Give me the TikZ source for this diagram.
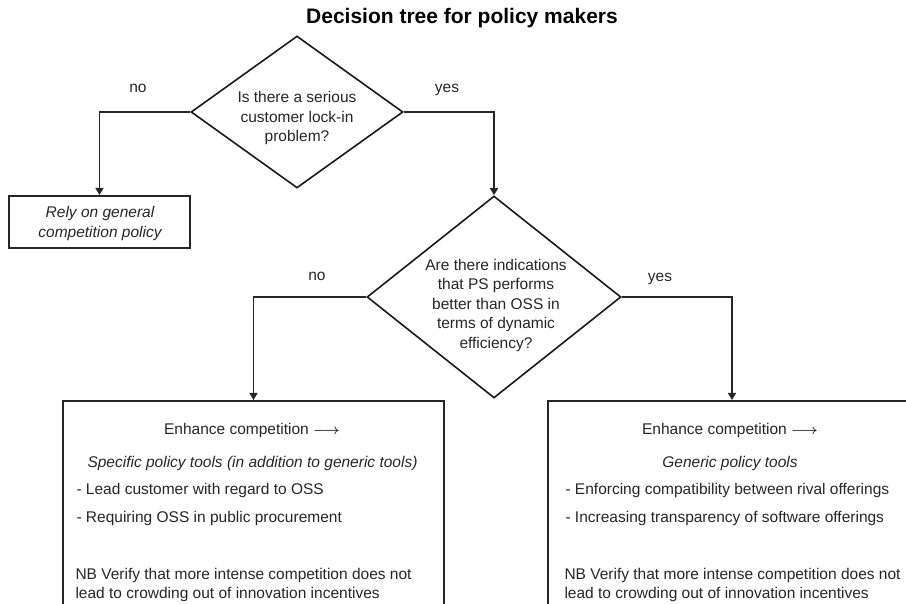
\documentclass[tikz,border=0pt]{standalone}
\usepackage{fontspec}
\setmainfont{Liberation Sans}
\usetikzlibrary{shapes.geometric,arrows.meta}
\begin{document}
\begin{tikzpicture}[x=1pt,y=-1pt,
  every node/.style={font=\fontsize{15.5}{19.5}\selectfont, text=black!85},
  conn/.style={line width=1.4pt, draw=black!85, -{Triangle[length=7pt,width=8pt]}},
  dia/.style={diamond, draw=black!90, line width=1.6pt, inner sep=0pt},
  frame/.style={rectangle, draw=black!85, line width=2pt, inner sep=0pt},
  lbl/.style={anchor=base},
  row/.style={anchor=base west}]
\useasboundingbox (0,0) rectangle (906,604);
\clip (0,0) rectangle (906,604);
% title
\node[font=\fontsize{21}{24}\selectfont\bfseries, text=black] (title) at (462,18) {Decision tree for policy makers};
% decisions
\node[dia, minimum width=212pt, minimum height=152pt] (d1) at (297,112) {};
\node[align=center] (d1t) at (297,118) {Is there a serious\\customer lock-in\\problem?};
\node[dia, minimum width=254pt, minimum height=202pt] (d2) at (494,297) {};
\node[align=center] (d2t) at (496,305) {Are there indications\\that PS performs\\better than OSS in\\terms of dynamic\\efficiency?};
% boxes
\node[frame, minimum width=181pt, minimum height=52pt] (rely) at (99.5,222) {};
\node[align=center, font=\fontsize{15.5}{20}\selectfont\itshape] (relyt) at (100,223) {Rely on general\\competition policy};
\node[frame, anchor=north west, minimum width=381pt, minimum height=260pt] (lb) at (62,400) {};
\node[frame, anchor=north west, minimum width=368pt, minimum height=260pt] (rb) at (547,400) {};
% connectors
\draw[conn] (d1.west) -| (rely.north);
\draw[conn] (d1.east) -| (d2.north);
\draw[conn] (d2.west) -| (lb.north);
\draw[conn] (d2.east) -| (rb.north);
% branch labels
\node[lbl] (n1) at (138,93) {no};
\node[lbl] (y1) at (447,93) {yes};
\node[lbl] (n2) at (317,281) {no};
\node[lbl] (y2) at (660,282) {yes};
% left box text
\node[lbl] (l1) at (252,434) {Enhance competition {\boldmath$\longrightarrow$}};
\node[lbl, font=\fontsize{15.5}{19}\selectfont\itshape] (l2) at (252.5,467) {Specific policy tools (in addition to generic tools)};
\node[row] (l3) at (73,494) {- Lead customer with regard to OSS};
\node[row] (l4) at (73,522) {- Requiring OSS in public procurement};
\node[row] (l5) at (72,579) {NB Verify that more intense competition does not};
\node[row] (l6) at (72,598) {lead to crowding out of innovation incentives};
% right box text
\node[lbl] (r1) at (730,434) {Enhance competition {\boldmath$\longrightarrow$}};
\node[lbl, font=\fontsize{15.5}{19}\selectfont\itshape] (r2) at (730,467) {Generic policy tools};
\node[row] (r3) at (562,494) {- Enforcing compatibility between rival offerings};
\node[row] (r4) at (562,522) {- Increasing transparency of software offerings};
\node[row] (r5) at (561,579) {NB Verify that more intense competition does not};
\node[row] (r6) at (561,598) {lead to crowding out of innovation incentives};
\end{tikzpicture}
\end{document}
